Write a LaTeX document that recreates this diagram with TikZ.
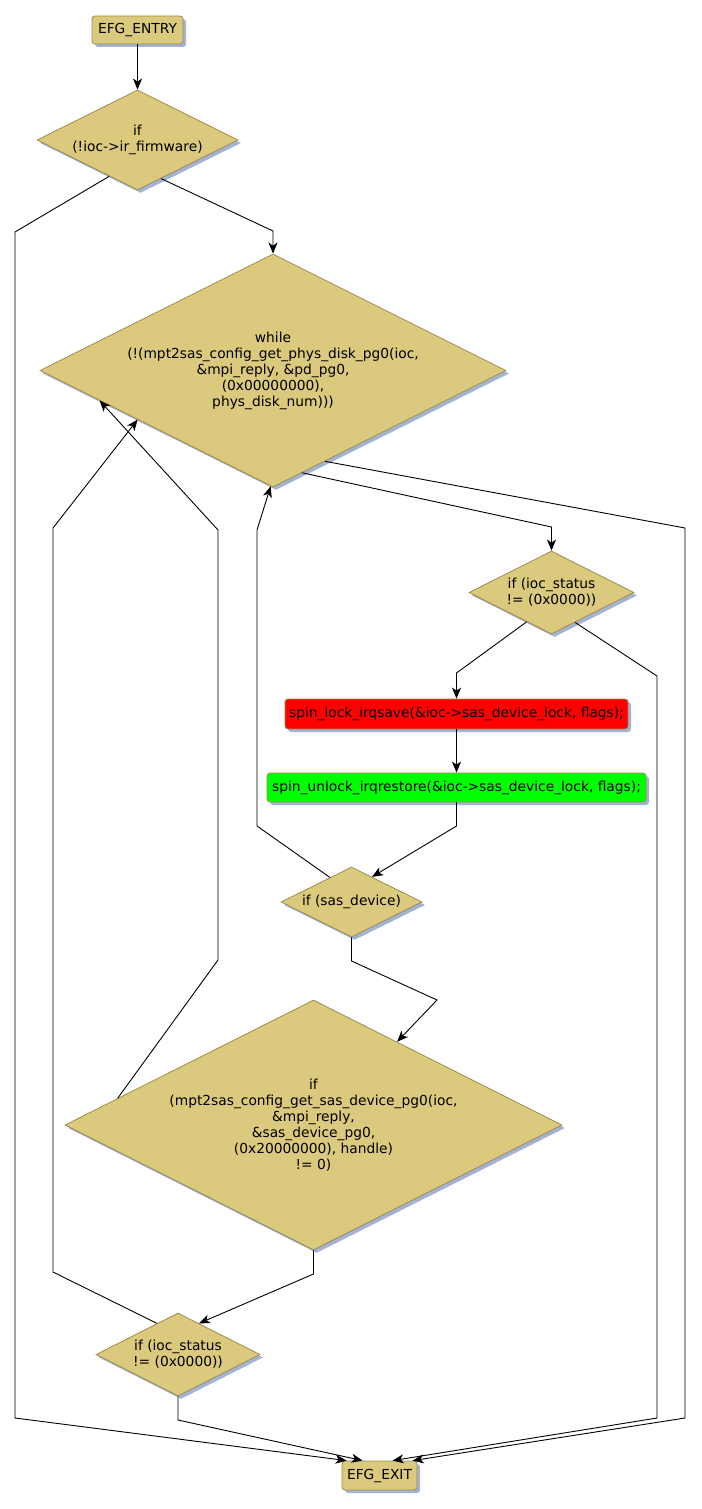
\documentclass[tikz,border=0pt]{standalone}
\usepackage{fontspec}
\setmainfont{DejaVu Sans}
\usetikzlibrary{shapes.geometric, shadows, arrows.meta, calc}
\definecolor{nodefill}{HTML}{DBC97D}
\definecolor{nodeline}{HTML}{9E8D4C}
\definecolor{shadowc}{HTML}{A3B3D6}
\newcommand\nodefont{\fontsize{13.8}{16}\selectfont}
\begin{document}
\begin{tikzpicture}[x=1pt,y=-1pt,
  shd/.style={drop shadow={shadow xshift=3pt, shadow yshift=-3pt, fill=shadowc, opacity=1}},
  dia/.style={diamond, draw=nodeline, fill=nodefill, inner sep=0pt, shd, line width=0.8pt},
  box/.style={rectangle, rounded corners=3pt, draw=nodeline, fill=nodefill, inner sep=0pt, shd, font=\nodefont, line width=0.8pt},
  txt/.style={align=center, font=\nodefont, inner sep=0pt},
  conn/.style={draw, line width=0.9pt, -{Stealth[length=11pt,width=9pt,inset=3pt]}},
]
\useasboundingbox (0,0) rectangle (701,1509);

\node[box, minimum width=91pt, minimum height=28pt] (entry) at (137.5,30) {EFG\_ENTRY};
\node[dia, minimum width=201pt, minimum height=100pt] (d1) at (137.5,140) {};
\node[txt] at (d1) {if\\(!ioc->ir\_firmware)};
\node[dia, minimum width=466pt, minimum height=233pt] (w) at (273,370.5) {};
\node[txt] at (w) {while\\(!(mpt2sas\_config\_get\_phys\_disk\_pg0(ioc,\\\&mpi\_reply, \&pd\_pg0,\\(0x00000000),\\phys\_disk\_num)))};
\node[dia, minimum width=165pt, minimum height=83pt] (d3) at (551.5,592.5) {};
\node[txt] at (d3) {if (ioc\_status\\!= (0x0000))};
\node[box, fill=red, minimum width=343pt, minimum height=30pt] (lock) at (456.5,714) {spin\_lock\_irqsave(\&ioc->sas\_device\_lock, flags);};
\node[box, fill=green, minimum width=379pt, minimum height=29pt] (unlock) at (456.5,787.5) {spin\_unlock\_irqrestore(\&ioc->sas\_device\_lock, flags);};
\node[dia, minimum width=141pt, minimum height=70pt] (d4) at (351.5,902) {};
\node[txt] at (d4) {if (sas\_device)};
\node[dia, minimum width=497pt, minimum height=250pt] (d5) at (313.5,1125) {};
\node[txt] at (d5) {if\\(mpt2sas\_config\_get\_sas\_device\_pg0(ioc,\\\&mpi\_reply,\\\&sas\_device\_pg0,\\(0x20000000), handle)\\!= 0)};
\node[dia, minimum width=164pt, minimum height=83pt] (d6) at (178,1354.5) {};
\node[txt] at (d6) {if (ioc\_status\\!= (0x0000))};
\node[box, minimum width=75pt, minimum height=29pt] (exit) at (379.5,1475.5) {EFG\_EXIT};

\draw[conn] (entry.south) -- (d1.north);
\draw[conn] ($(d1.west)!0.72!(d1.south)$) -- (15,232) -- (15,1418) -- ($(exit.north west)+(5,0)$);
\draw[conn] ($(d1.south)!0.234!(d1.east)$) -- (273,231) -- (w.north);
\draw[conn] ($(w.east)!0.875!(w.south)$) -- (551.5,527) -- (d3.north);
\draw[conn] ($(w.east)!0.777!(w.south)$) -- (685,528) -- (685,1418) -- ($(exit.north west)+(71,0)$);
\draw[conn] ($(d3.west)!0.70!(d3.south)$) -- (456.5,673) -- (lock.north);
\draw[conn] ($(d3.east)!0.715!(d3.south)$) -- (657,676) -- (657,1418) -- ($(exit.north west)+(51,0)$);
\draw[conn] (lock.south) -- (unlock.north);
\draw[conn] (unlock.south) -- (456.5,826) -- ($(d4.north)!0.29!(d4.east)$);
\draw[conn] ($(d4.west)!0.695!(d4.north)$) -- (257,826) -- (257,530) -- ($(w.south)!0.01!(w.west)$);
\draw[conn] (d4.south) -- (351.5,961) -- (437,1000) -- ($(d5.north)!0.336!(d5.east)$);
\draw[conn] ($(d5.west)!0.213!(d5.north)$) -- (218,960) -- (218,530) -- ($(w.west)!0.257!(w.south)$);
\draw[conn] (d5.south) -- (313.5,1274) -- ($(d6.north)!0.256!(d6.east)$);
\draw[conn] ($(d6.west)!0.744!(d6.north)$) -- (53,1272) -- (53,528) -- ($(w.west)!0.42!(w.south)$);
\draw[conn] (d6.south) -- (178,1420) -- ($(exit.north west)+(21,0)$);
\end{tikzpicture}
\end{document}
